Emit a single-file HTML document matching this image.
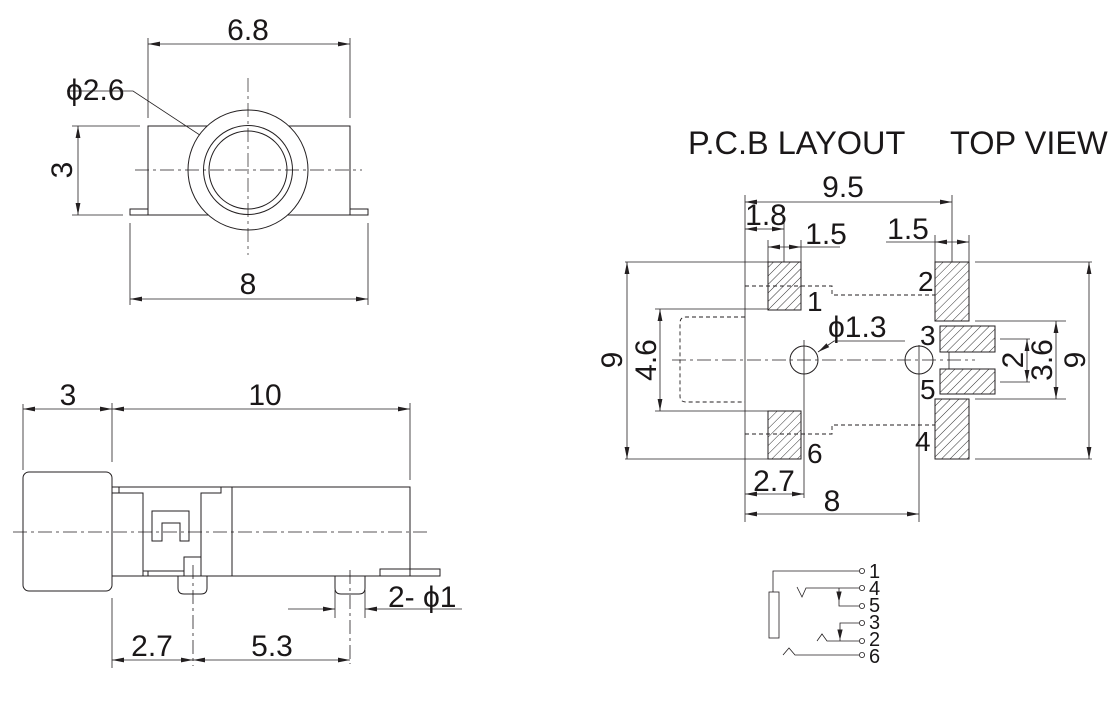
<!DOCTYPE html>
<html><head><meta charset="utf-8"><style>
html,body{margin:0;padding:0;background:#fff;}
svg{display:block;}
text{font-family:"Liberation Sans",sans-serif;fill:#1a1718;}
</style></head><body>
<svg width="1120" height="714" viewBox="0 0 1120 714" xmlns="http://www.w3.org/2000/svg">
<defs>
<marker id="a" markerWidth="12" markerHeight="6" refX="12" refY="3" orient="auto-start-reverse" markerUnits="userSpaceOnUse"><path d="M0,0.6 L12,3 L0,5.4 Z" fill="#231f20"/></marker>
<pattern id="h" width="6" height="6" patternUnits="userSpaceOnUse" patternTransform="rotate(45)"><line x1="0" y1="0" x2="0" y2="6" stroke="#333" stroke-width="1"/></pattern>
</defs>
<g fill="none" stroke="#231f20" stroke-width="1">
<g stroke-width="0.8">
<line x1="148" y1="44" x2="350" y2="44" marker-start="url(#a)" marker-end="url(#a)"/>
<line x1="148" y1="38" x2="148" y2="118"/><line x1="350" y1="38" x2="350" y2="118"/>
<line x1="78" y1="126" x2="78" y2="215" marker-start="url(#a)" marker-end="url(#a)"/>
<line x1="72" y1="126" x2="140" y2="126"/><line x1="72" y1="215" x2="123" y2="215"/>
<line x1="130" y1="299" x2="368" y2="299" marker-start="url(#a)" marker-end="url(#a)"/>
<line x1="130" y1="223" x2="130" y2="305"/><line x1="368" y1="223" x2="368" y2="305"/>
<polyline points="67,91 133,91 218,147"/>
</g>
<path d="M148,215 V126 H350 V215 Z"/>
<rect x="130" y="209" width="18" height="6"/><rect x="350" y="209" width="18" height="6"/>
<circle cx="248" cy="170" r="60" fill="#fff"/>
<circle cx="248" cy="170" r="44.5"/>
<circle cx="248" cy="170" r="39"/>
<line x1="248" y1="78" x2="248" y2="255" stroke-dasharray="14,4,3,4" stroke-width="0.7"/>
<line x1="135" y1="170" x2="362" y2="170" stroke-dasharray="14,4,3,4" stroke-width="0.7"/>

<g stroke-width="0.8">
<line x1="23" y1="409" x2="112" y2="409" marker-start="url(#a)" marker-end="url(#a)"/>
<line x1="112" y1="409" x2="410" y2="409" marker-start="url(#a)" marker-end="url(#a)"/>
<line x1="23" y1="404" x2="23" y2="470"/><line x1="112" y1="403" x2="112" y2="462"/><line x1="410" y1="403" x2="410" y2="480"/>
<line x1="13" y1="532" x2="428" y2="532" stroke-dasharray="14,4,3,4"/>
<line x1="193" y1="565" x2="193" y2="666" stroke-dasharray="14,4,3,4"/>
<line x1="350" y1="570" x2="350" y2="664" stroke-dasharray="14,4,3,4"/>
<line x1="112" y1="598" x2="112" y2="668"/>
<line x1="112" y1="660" x2="193" y2="660" marker-start="url(#a)" marker-end="url(#a)"/>
<line x1="193" y1="660" x2="350" y2="660" marker-start="url(#a)" marker-end="url(#a)"/>
<line x1="335" y1="590" x2="335" y2="618"/><line x1="365" y1="590" x2="365" y2="618"/>
<line x1="288" y1="609" x2="335" y2="609" marker-end="url(#a)"/>
<line x1="365" y1="609" x2="462" y2="609" marker-start="url(#a)"/>
</g>
<rect x="23" y="472" width="89" height="119" rx="6"/>
<rect x="112" y="487" width="298" height="89"/>
<line x1="232" y1="487" x2="232" y2="576"/>
<polyline points="112,493 143,493 143,576"/>
<polyline points="221,487 221,493 201,493 201,576"/>
<rect x="112" y="487" width="7" height="6"/>
<polyline points="143,571 148,571 148,576"/><line x1="148" y1="571" x2="184" y2="571"/>
<rect x="184" y="557" width="17" height="19"/>
<path d="M152,541 V511 H189 V541 H180 V523 H162 V541 Z"/>
<path d="M178,576 V588 Q178,594 184,594 H201 Q207,594 207,588 V576"/>
<path d="M335,576 V588 Q335,594 341,594 H359 Q365,594 365,588 V576"/>
<rect x="380" y="569" width="60" height="7"/><line x1="410" y1="569" x2="410" y2="576"/>

<g stroke-width="0.8">
<line x1="745" y1="202" x2="952" y2="202" marker-start="url(#a)" marker-end="url(#a)"/>
<line x1="745" y1="195" x2="745" y2="522"/>
<line x1="952" y1="195" x2="952" y2="262"/>
<line x1="745" y1="229" x2="784" y2="229" marker-start="url(#a)" marker-end="url(#a)"/>
<line x1="784" y1="222" x2="784" y2="262"/>
<line x1="768" y1="240" x2="768" y2="262"/><line x1="801" y1="240" x2="801" y2="262"/>
<line x1="768" y1="247" x2="801" y2="247" marker-start="url(#a)" marker-end="url(#a)"/>
<line x1="801" y1="247" x2="840" y2="247"/>
<line x1="935" y1="235" x2="935" y2="262"/><line x1="969" y1="235" x2="969" y2="262"/>
<line x1="935" y1="242" x2="969" y2="242" marker-start="url(#a)" marker-end="url(#a)"/>
<line x1="886" y1="242" x2="935" y2="242"/>
<line x1="627" y1="262" x2="627" y2="459" marker-start="url(#a)" marker-end="url(#a)"/>
<line x1="625" y1="262" x2="768" y2="262"/><line x1="625" y1="459" x2="768" y2="459"/>
<line x1="660" y1="309" x2="660" y2="411" marker-start="url(#a)" marker-end="url(#a)"/>
<line x1="655" y1="309" x2="768" y2="309"/><line x1="655" y1="411" x2="768" y2="411"/>
<line x1="672" y1="360" x2="975" y2="360" stroke-dasharray="14,4,3,4"/>
<line x1="804" y1="340" x2="804" y2="498"/>
<line x1="919" y1="345" x2="919" y2="522"/>
<line x1="745" y1="494" x2="804" y2="494" marker-start="url(#a)" marker-end="url(#a)"/>
<line x1="745" y1="514" x2="919" y2="514" marker-start="url(#a)" marker-end="url(#a)"/>
<polyline points="905,341 834,341 818,352" marker-end="url(#a)"/>
<line x1="975" y1="262" x2="1092" y2="262"/><line x1="975" y1="459" x2="1092" y2="459"/>
<line x1="1089" y1="262" x2="1089" y2="459" marker-start="url(#a)" marker-end="url(#a)"/>
<line x1="975" y1="321" x2="1066" y2="321"/><line x1="975" y1="399" x2="1066" y2="399"/>
<line x1="1056" y1="321" x2="1056" y2="399" marker-start="url(#a)" marker-end="url(#a)"/>
<line x1="1000" y1="339" x2="1030" y2="339"/><line x1="1000" y1="382" x2="1030" y2="382"/>
<line x1="1027" y1="339" x2="1027" y2="382" marker-start="url(#a)" marker-end="url(#a)"/>
<line x1="949" y1="352" x2="949" y2="369"/>
</g>
<g stroke-dasharray="4,3" stroke-width="0.9">
<path d="M745,286 H832 V295 H935"/>
<path d="M745,434 H832 V425 H935"/>
<path d="M745,317 H686 Q680,317 680,323 V396 Q680,402 686,402 H745"/>
</g>
<circle cx="804" cy="360" r="14"/><circle cx="919" cy="360" r="14"/>
<g fill="url(#h)">
<rect x="768" y="262" width="33" height="48"/>
<rect x="768" y="411" width="33" height="48"/>
<rect x="935" y="262" width="34" height="59"/>
<rect x="935" y="399" width="34" height="60"/>
<rect x="940" y="326" width="55" height="26"/>
<rect x="940" y="369" width="55" height="25"/>
</g>

<g stroke-width="0.8">
<polyline points="859,571 773,571 773,592"/>
<rect x="769" y="592" width="10" height="46"/>
<polyline points="859,588 806,588 802,597 797,587"/>
<polyline points="839,588 839,606 859,606"/>
<polyline points="859,623 840,623 840,641"/>
<polyline points="859,641 827,641 822,634 817,641"/>
<polyline points="859,655 795,655 789,648 783,655"/>
<circle cx="862" cy="571" r="2.6"/><circle cx="862" cy="588" r="2.6"/><circle cx="862" cy="606" r="2.6"/>
<circle cx="862" cy="623" r="2.6"/><circle cx="862" cy="641" r="2.6"/><circle cx="862" cy="655" r="2.6"/>
</g>
<path d="M837,592 L841,592 L839,600 Z" fill="#231f20"/>
<path d="M838,630 L842,630 L840,638 Z" fill="#231f20"/>
</g>

<g font-size="30">
<text x="248" y="40" text-anchor="middle">6.8</text>
<text x="66" y="100">ϕ2.6</text>
<text transform="translate(72 170) rotate(-90)" text-anchor="middle">3</text>
<text x="248" y="294" text-anchor="middle">8</text>
<text x="68" y="405" text-anchor="middle">3</text>
<text x="265" y="405" text-anchor="middle">10</text>
<text x="152" y="656" text-anchor="middle">2.7</text>
<text x="272" y="656" text-anchor="middle">5.3</text>
<text x="388" y="607">2- ϕ1</text>
<text x="843" y="197" text-anchor="middle">9.5</text>
<text x="766" y="225" text-anchor="middle">1.8</text>
<text x="826" y="244" text-anchor="middle">1.5</text>
<text x="908" y="239" text-anchor="middle">1.5</text>
<text x="828" y="337">ϕ1.3</text>
<text x="774" y="491" text-anchor="middle">2.7</text>
<text x="832" y="511" text-anchor="middle">8</text>
<text transform="translate(622 360) rotate(-90)" text-anchor="middle">9</text>
<text transform="translate(656 360) rotate(-90)" text-anchor="middle">4.6</text>
<text transform="translate(1023 360) rotate(-90)" text-anchor="middle">2</text>
<text transform="translate(1052 360) rotate(-90)" text-anchor="middle">3.6</text>
<text transform="translate(1085 360) rotate(-90)" text-anchor="middle">9</text>
</g>
<g font-size="32.5">
<text x="688" y="154">P.C.B LAYOUT</text>
<text x="950" y="154">TOP VIEW</text>
</g>
<g font-size="28">
<text x="807" y="311">1</text>
<text x="807" y="463">6</text>
<text x="918" y="291">2</text>
<text x="920" y="345">3</text>
<text x="920" y="399">5</text>
<text x="915" y="451">4</text>
</g>
<g font-size="20">
<text x="869" y="578">1</text><text x="869" y="595">4</text><text x="869" y="612">5</text>
<text x="869" y="629">3</text><text x="869" y="646">2</text><text x="869" y="663">6</text>
</g>
</svg>
</body></html>
